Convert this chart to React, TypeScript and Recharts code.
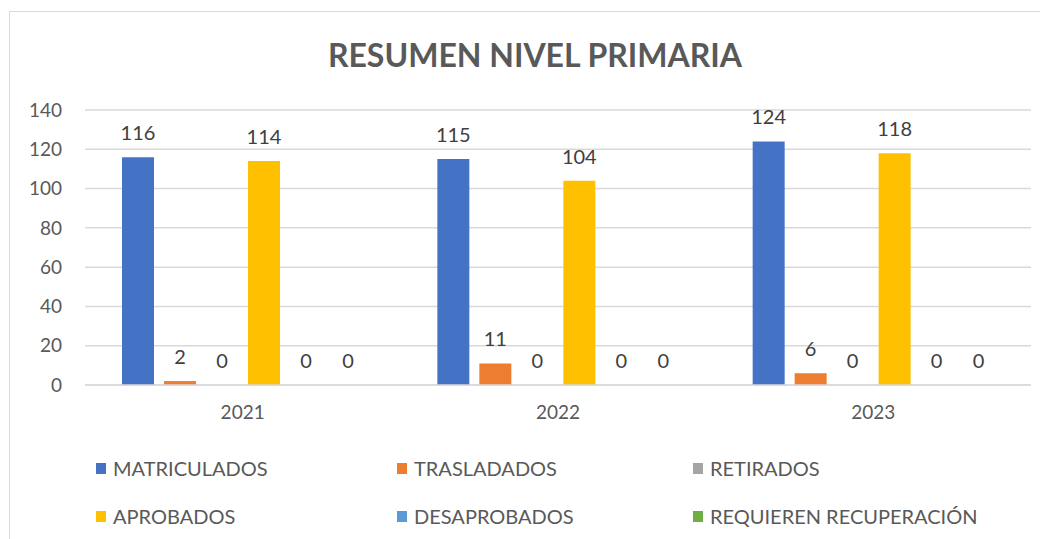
import { Bar, BarChart, CartesianGrid, LabelList, XAxis, YAxis } from "recharts";

const years = ["2021", "2022", "2023"];
const matriculados = [116, 115, 124];
const trasladados = [2, 11, 6];
const retirados = [0, 0, 0];
const aprobados = [114, 104, 118];
const desaprobados = [0, 0, 0];
const recuperacion = [0, 0, 0];
const yTicks = [0, 20, 40, 60, 80, 100, 120, 140];

const series = [
  { key: "matriculados", name: "MATRICULADOS", color: "#4472C4", values: matriculados },
  { key: "trasladados", name: "TRASLADADOS", color: "#ED7D31", values: trasladados },
  { key: "retirados", name: "RETIRADOS", color: "#A5A5A5", values: retirados },
  { key: "aprobados", name: "APROBADOS", color: "#FFC000", values: aprobados },
  { key: "desaprobados", name: "DESAPROBADOS", color: "#5B9BD5", values: desaprobados },
  { key: "recuperacion", name: "REQUIEREN RECUPERACIÓN", color: "#70AD47", values: recuperacion },
];

const data = years.map((year, i) => {
  const row: Record<string, string | number> = { year };
  series.forEach((s) => (row[s.key] = s.values[i]));
  return row;
});

const font = "Lato, 'Open Sans', sans-serif";
const legendCols = [88, 389, 685];
const legendRows = [460, 508];

export default function App() {
  return (
    <div style={{ position: "relative", width: 1040, height: 531, fontFamily: font, overflow: "hidden" }}>
      <div
        style={{
          position: "absolute",
          left: 1,
          top: 3,
          width: 1060,
          height: 560,
          border: "1px solid #d9d9d9",
          background: "#fff",
        }}
      />
      <div
        style={{
          position: "absolute",
          left: 0,
          top: 29,
          width: 1054,
          textAlign: "center",
          fontSize: 32,
          lineHeight: "36px",
          fontWeight: 700,
          color: "#595959",
        }}
      >
        RESUMEN NIVEL PRIMARIA
      </div>
      <div style={{ position: "absolute", left: 0, top: 0 }}>
        <BarChart
          width={1040}
          height={440}
          data={data}
          margin={{ top: 102, right: 17, left: 0, bottom: 23 }}
          barSize={32}
          barGap={10}
        >
          <CartesianGrid vertical={false} stroke="#d9d9d9" strokeWidth={1.5} />
          <XAxis
            dataKey="year"
            axisLine={{ stroke: "#d9d9d9", strokeWidth: 1.5 }}
            tickLine={false}
            tickSize={0}
            tickMargin={21}
            height={40}
            tick={{ fill: "#595959", fontSize: 19, fontFamily: font }}
          />
          <YAxis
            domain={[0, 140]}
            ticks={yTicks}
            axisLine={false}
            tickLine={false}
            tickSize={0}
            tickMargin={23}
            width={77}
            tick={{ fill: "#595959", fontSize: 19, fontFamily: font }}
          />
          {series.map((s) => (
            <Bar
              key={s.key}
              dataKey={s.key}
              name={s.name}
              fill={s.color}
              minPointSize={0.01}
              isAnimationActive={false}
            >
              <LabelList dataKey={s.key} position="top" offset={17} fill="#404040" fontSize={20} fontFamily={font} />
            </Bar>
          ))}
        </BarChart>
      </div>
      {series.map((s, i) => (
        <div
          key={s.key}
          style={{
            position: "absolute",
            left: legendCols[i % 3],
            top: legendRows[Math.floor(i / 3)] - 12,
            height: 24,
            display: "flex",
            alignItems: "center",
            fontSize: 20,
            color: "#595959",
            whiteSpace: "nowrap",
          }}
        >
          <span style={{ display: "inline-block", width: 10, height: 11, background: s.color, marginRight: 7 }} />
          {s.name}
        </div>
      ))}
    </div>
  );
}
